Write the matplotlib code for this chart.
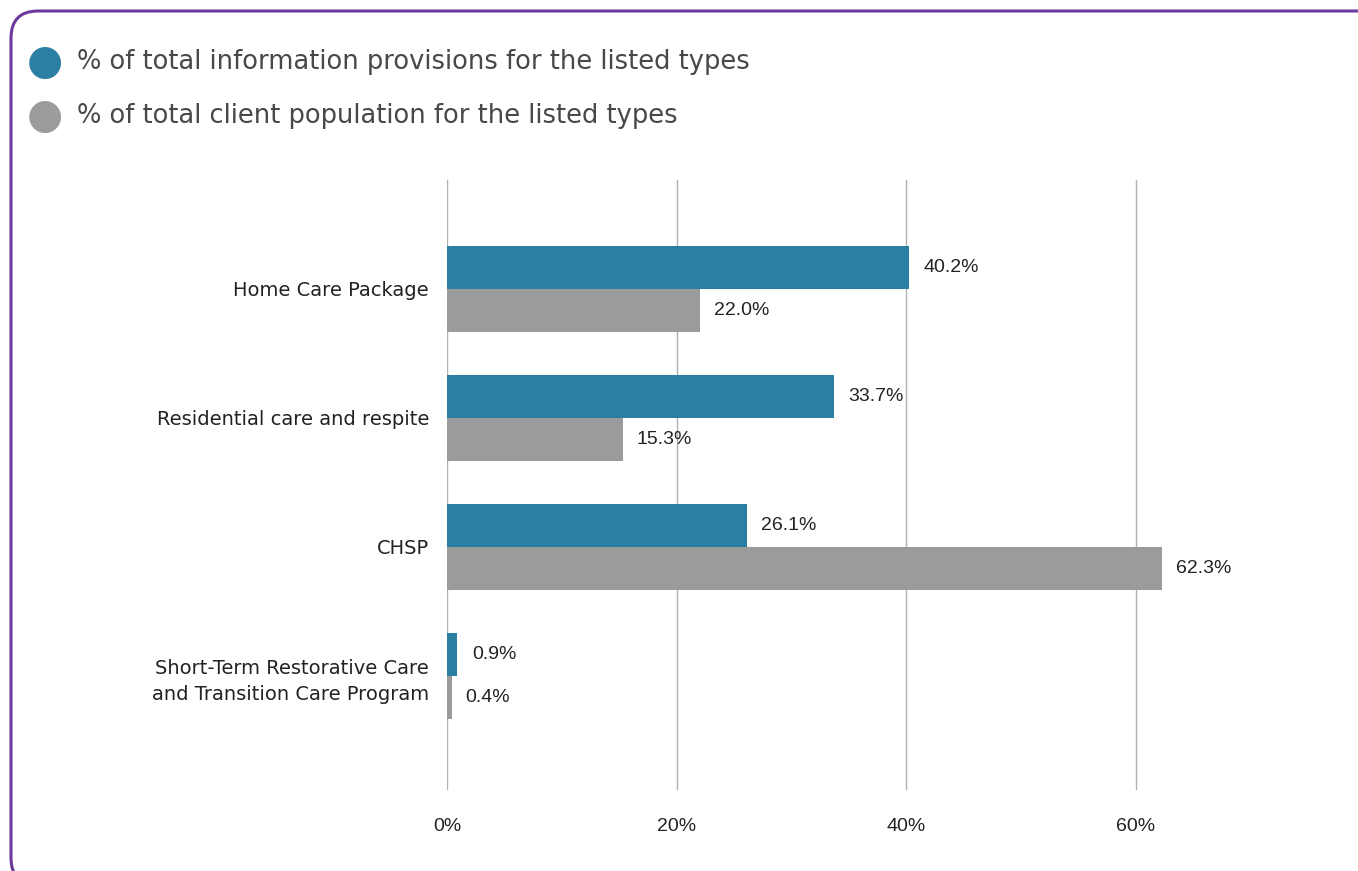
import numpy as np
import matplotlib.pyplot as plt
from matplotlib.patches import FancyBboxPatch

categories = ['Home Care Package', 'Residential care and respite', 'CHSP',
              'Short-Term Restorative Care\nand Transition Care Program']
info_pct = [40.2, 33.7, 26.1, 0.9]
client_pct = [22.0, 15.3, 62.3, 0.4]
series_names = ['% of total information provisions for the listed types',
                '% of total client population for the listed types']
xticks = [0, 20, 40, 60]

blue = '#2a7fa3'
grey = '#9b9b9b'
txt = '#222222'
numfont = ['Liberation Sans', 'DejaVu Sans']

plt.rcParams['font.family'] = ['DejaVu Sans']

W, H = 1358, 871
fig = plt.figure(figsize=(W / 100, H / 100), dpi=100)

# rounded frame, running off the right and bottom edges
frame = FancyBboxPatch((11 / W, -14 / H), (W + 40) / W, (H - 11 + 14) / H,
                       boxstyle='round,pad=0,rounding_size=0.02',
                       transform=fig.transFigure, fill=False,
                       edgecolor='#6b3a9e', linewidth=2.2, mutation_aspect=W / H)
fig.patches.append(frame)

# legend
for i, (name, col) in enumerate(zip(series_names, [blue, grey])):
    y = 1 - (62 + 54 * i) / H
    fig.text(45 / W, y, '\u25CF', color=col, fontsize=30, ha='center', va='center')
    fig.text(77 / W, y, name, color='#484848', fontsize=18.5, ha='left', va='center')

# axes: x 0 -> px 447, 60 -> px 1136
x0, px20 = 447, (1136 - 447) / 3
xmax = 70
left = x0 / W
width = xmax / 20 * px20 / W
ax = fig.add_axes([left, 1 - 790 / H, width, (790 - 180) / H])

ypos = np.arange(len(categories))
h = 0.337
ax.barh(ypos - h / 2, info_pct, height=h, color=blue, zorder=3)
ax.barh(ypos + h / 2, client_pct, height=h, color=grey, zorder=3)

for y, v in zip(ypos, info_pct):
    ax.annotate(f'{v:.1f}%', (v, y - h / 2), xytext=(10.5, 0), textcoords='offset points',
                ha='left', va='center', fontsize=14, color=txt, family=numfont)
for y, v in zip(ypos, client_pct):
    ax.annotate(f'{v:.1f}%', (v, y + h / 2), xytext=(10, 0), textcoords='offset points',
                ha='left', va='center', fontsize=14, color=txt, family=numfont)

ax.set_xlim(0, xmax)
ax.set_ylim(3.884, -0.845)
ax.set_xticks(xticks)
ax.set_xticklabels([f'{t}%' for t in xticks], fontsize=14, color=txt, family=numfont)
ax.set_yticks(ypos)
ax.set_yticklabels(categories, fontsize=14, color=txt, linespacing=1.45)
ax.tick_params(axis='both', length=0)
ax.tick_params(axis='x', pad=20)
ax.tick_params(axis='y', pad=13)
ax.grid(axis='x', color='#b0b0b0', linewidth=1, zorder=0)
for s in ax.spines.values():
    s.set_visible(False)

plt.savefig('out.png', dpi=100)
